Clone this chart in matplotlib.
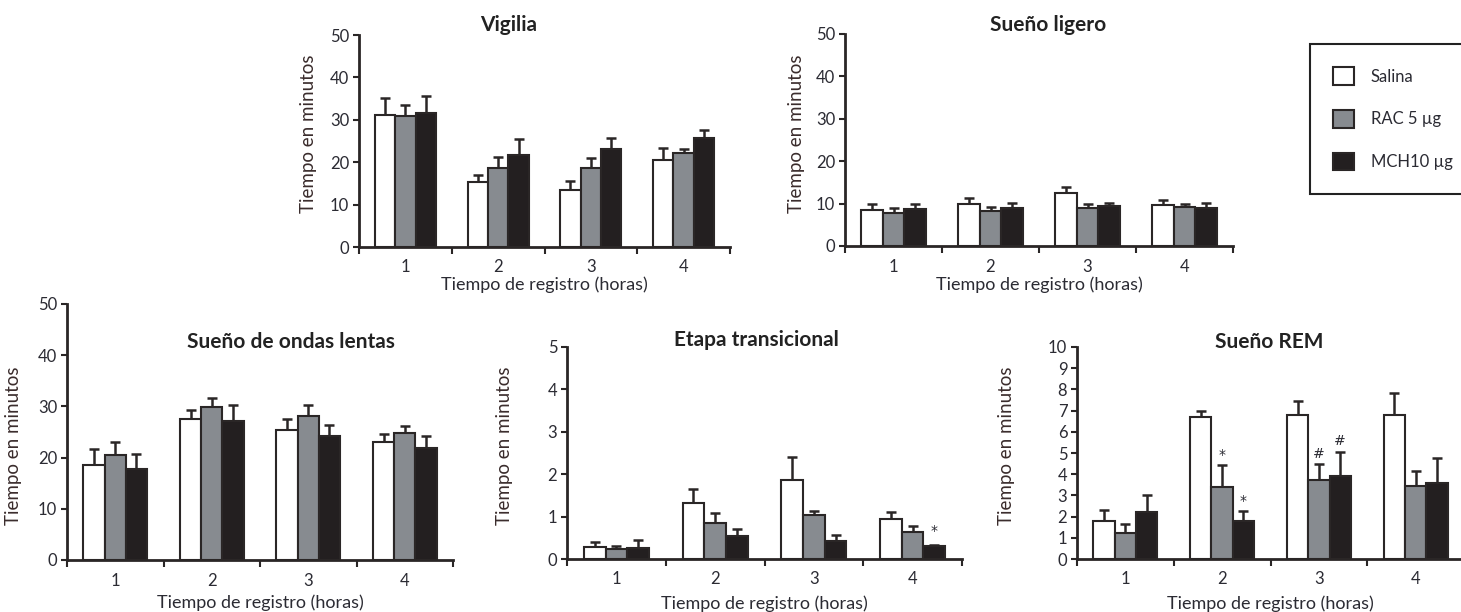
import numpy as np
import matplotlib.pyplot as plt

plt.rcParams['font.family'] = ['Lato', 'DejaVu Sans']

# datos (minutos, media y error estandar)
horas = [1, 2, 3, 4]
grupos = ["Salina", "RAC 5 µg", "MCH10 µg"]

vigilia = [[31.1, 15.3, 13.4, 20.6], [30.8, 18.6, 18.6, 22.1], [31.6, 21.6, 23.0, 25.7]]
vigilia_err = [[4.1, 1.7, 2.2, 2.7], [2.6, 2.6, 2.4, 1.1], [4.1, 3.9, 2.8, 1.8]]

ligero = [[8.6, 9.8, 12.5, 9.6], [7.7, 8.3, 9.0, 9.2], [8.8, 9.0, 9.4, 8.9]]
ligero_err = [[1.2, 1.5, 1.5, 1.3], [1.3, 1.0, 0.8, 0.6], [1.0, 1.2, 0.7, 1.2]]

ondas = [[18.6, 27.5, 25.4, 23.0], [20.6, 29.8, 28.2, 24.9], [17.7, 27.1, 24.2, 21.9]]
ondas_err = [[3.0, 1.7, 2.1, 1.7], [2.4, 1.9, 2.1, 1.2], [3.1, 3.1, 2.1, 2.3]]

etapa = [[0.29, 1.31, 1.86, 0.94], [0.23, 0.84, 1.04, 0.64], [0.27, 0.54, 0.43, 0.30]]
etapa_err = [[0.10, 0.33, 0.55, 0.18], [0.08, 0.24, 0.09, 0.14], [0.18, 0.16, 0.14, 0.04]]

rem = [[1.78, 6.69, 6.78, 6.79], [1.23, 3.38, 3.72, 3.46], [2.21, 1.77, 3.93, 3.57]]
rem_err = [[0.54, 0.30, 0.66, 1.02], [0.41, 1.04, 0.74, 0.67], [0.79, 0.49, 1.12, 1.19]]

# marcas de significancia: (hora, grupo, texto, y)
etapa_marcas = [(4, 2, "*", 0.67)]
rem_marcas = [(2, 1, "*", 4.9), (2, 2, "*", 2.75), (3, 1, "#", 4.97), (3, 2, "#", 5.55)]

colores = ["white", "#878b90", "#231f20"]
borde = "#2a2626"
txt = "#2b2b33"

W, H = 1461, 612
fig = plt.figure(figsize=(W / 100, H / 100), dpi=100)


def panel(left, right, top, bottom, medias, errores, ymax, paso, titulo, tpos, ylab_pos, xlab_y, marcas=()):
    ax = fig.add_axes([left / W, 1 - bottom / H, (right - left) / W, (bottom - top) / H])
    ancho = 0.22
    x = np.array(horas, dtype=float)
    barras = []
    for i in range(3):
        xi = x + (i - 1) * ancho
        b = ax.bar(xi, medias[i], ancho, color=colores[i], edgecolor=borde, linewidth=1.5, zorder=2)
        barras.append(b)
        ax.errorbar(xi, medias[i], yerr=[np.zeros(4), errores[i]], fmt='none', ecolor=borde,
                    elinewidth=1.8, capsize=3.5, capthick=1.8, zorder=1)
    for h, g, s, y in marcas:
        ax.text(h + (g - 1) * ancho, y, s, ha='center', va='center', fontsize=10,
                color=txt, family='DejaVu Sans')
    ax.set_xlim(0.5, 4.5)
    ax.set_ylim(0, ymax)
    ax.set_yticks(np.arange(0, ymax + paso / 2, paso))
    ax.set_xticks(horas)
    ax.set_xticks(np.arange(0.5, 4.6, 1), minor=True)
    ax.tick_params(axis='x', which='major', length=0, pad=9, labelsize=12, labelcolor=txt)
    ax.tick_params(axis='x', which='minor', length=5, width=1.5, color=borde, direction='out')
    ax.tick_params(axis='y', length=4, width=1.5, color=borde, labelsize=12, labelcolor=txt, pad=3)
    for s in ['top', 'right']:
        ax.spines[s].set_visible(False)
    for s in ['left', 'bottom']:
        ax.spines[s].set_linewidth(2)
        ax.spines[s].set_color(borde)
    ax.set_xlabel("Tiempo de registro (horas)", fontsize=13, color=txt, va='center')
    ax.xaxis.set_label_coords(0.5, (bottom - xlab_y) / (bottom - top))
    ax.set_ylabel("Tiempo en minutos", fontsize=13.5, color="#3a2c2c")
    ax.yaxis.set_label_coords((ylab_pos[0] - left) / (right - left), (bottom - ylab_pos[1]) / (bottom - top))
    fig.text(tpos[0] / W, 1 - tpos[1] / H, titulo, ha='center', va='center',
             fontsize=15, fontweight='bold', color="#222222")
    return barras


barras = panel(359, 730, 35, 247, vigilia, vigilia_err, 50, 10, "Vigilia", (509, 25), (317, 134), 285)
panel(845, 1233, 34, 246, ligero, ligero_err, 50, 10, "Sueño ligero", (1048, 25), (805, 134), 285)
panel(67, 453, 304, 560, ondas, ondas_err, 50, 10, "Sueño de ondas lentas", (291, 342), (22, 446), 603)
panel(567, 962, 347, 559, etapa, etapa_err, 5, 1, "Etapa transicional", (756, 340), (513, 446), 604,
      etapa_marcas)
panel(1077, 1464, 347, 559, rem, rem_err, 10, 1, "Sueño REM", (1269, 342), (1015, 446), 604, rem_marcas)

leg = fig.legend(barras, grupos, loc='upper left', bbox_to_anchor=(1310 / W, 1 - 44 / H),
                 borderaxespad=0, fancybox=False, edgecolor='#222222', fontsize=12,
                 handlelength=1.25, handleheight=1.25, labelspacing=1.5, borderpad=1.4,
                 handletextpad=1.0, framealpha=1)
leg.get_frame().set_linewidth(1.5)
for t in leg.get_texts():
    t.set_color(txt)

fig.savefig("out.png", dpi=100, facecolor='white')
